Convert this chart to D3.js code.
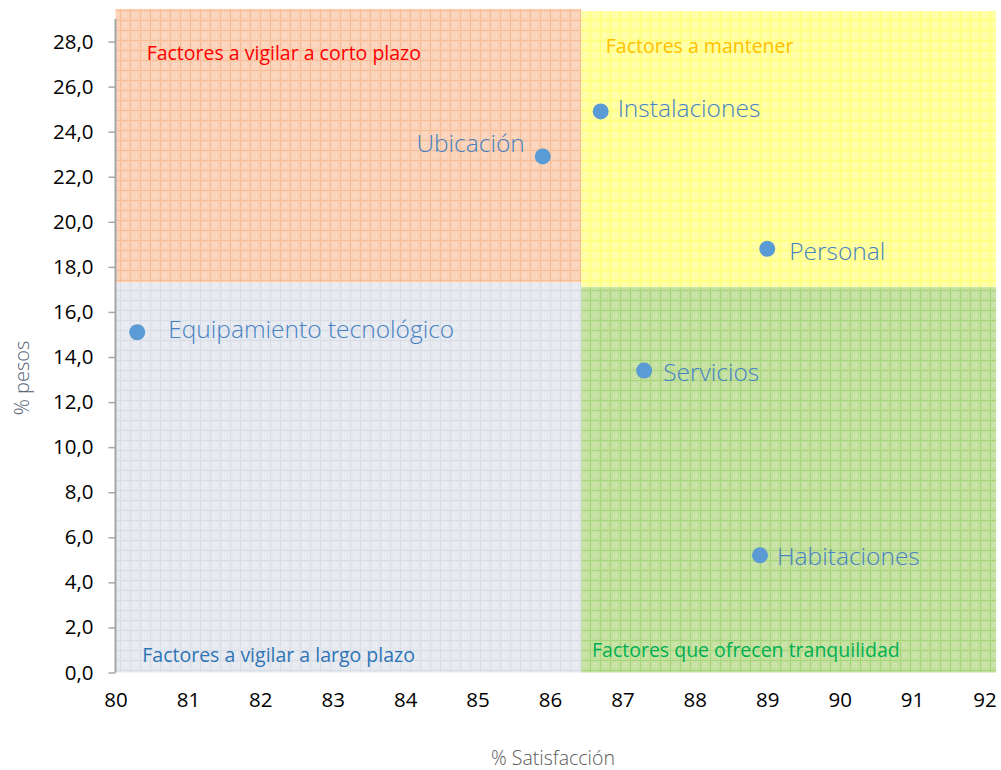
<!DOCTYPE html>
<html lang="es">
<head>
<meta charset="UTF-8">
<title>Matriz satisfacción / pesos</title>
<script src="https://cdn.jsdelivr.net/npm/d3@7"></script>
<style>
  body { margin: 0; background: #fff; }
  svg { display: block; font-family: "Open Sans", "Liberation Sans", sans-serif; }
</style>
</head>
<body>
<div id="chart"></div>
<script>
// factors: % satisfaction (x) and % weight (y)
var factors = ['Ubicación', 'Instalaciones', 'Personal', 'Equipamiento tecnológico', 'Servicios', 'Habitaciones'];
var satisfaccion = [85.9, 86.7, 89.0, 80.3, 87.3, 88.9];
var pesos = [22.9, 24.9, 18.8, 15.1, 13.4, 5.2];

var yTicks = [0, 2, 4, 6, 8, 10, 12, 14, 16, 18, 20, 22, 24, 26, 28];
var xTicks = [80, 81, 82, 83, 84, 85, 86, 87, 88, 89, 90, 91, 92];

// quadrant backgrounds (data units)
var quadNames = ['Factores a vigilar a corto plazo', 'Factores a mantener', 'Factores que ofrecen tranquilidad', 'Factores a vigilar a largo plazo'];
var quadX0 = [80, 86.43, 86.43, 80];
var quadX1 = [86.43, 92.16, 92.16, 86.43];
var quadY0 = [17.3, 17.1, 0, 0];
var quadY1 = [29.45, 29.35, 17.1, 17.3];

var width = 1001, height = 770;
var margin = {top: 19, right: 16.5, bottom: 97.5, left: 115.5};

var svg = d3.select('#chart').append('svg')
    .attr('width', width)
    .attr('height', height);

var x = d3.scaleLinear().domain([80, 92]).range([margin.left, width - margin.right]);
var y = d3.scaleLinear().domain([0, 29]).range([height - margin.bottom, margin.top]);

// textured fills, Excel style small grid
var tex = [
    {id: 'p-orange', base: '#fad2b8', line: '#f6bd98', dot: '#fcdcc8'},
    {id: 'p-yellow', base: '#ffff9e', line: '#ffff78', dot: '#ffffbc'},
    {id: 'p-green', base: '#c3e09f', line: '#a6d57c', dot: '#d0e7b5'},
    {id: 'p-gray', base: '#e6e9ef', line: '#d8dde6', dot: '#edeff3'}
];
var defs = svg.append('defs');
tex.forEach(function (t) {
    var p = defs.append('pattern')
        .attr('id', t.id)
        .attr('patternUnits', 'userSpaceOnUse')
        .attr('width', 10).attr('height', 10);
    p.append('rect').attr('width', 10).attr('height', 10).attr('fill', t.base);
    p.append('rect').attr('x', 3).attr('y', 3).attr('width', 4).attr('height', 4).attr('fill', t.dot);
    p.append('rect').attr('x', 4).attr('y', 4).attr('width', 2).attr('height', 2).attr('fill', t.base);
    p.append('rect').attr('width', 10).attr('height', 1).attr('fill', t.line);
    p.append('rect').attr('width', 1).attr('height', 10).attr('fill', t.line);
});

svg.append('g').selectAll('rect')
    .data(quadNames)
    .join('rect')
    .attr('x', (d, i) => x(quadX0[i]))
    .attr('y', (d, i) => y(quadY1[i]))
    .attr('width', (d, i) => x(quadX1[i]) - x(quadX0[i]))
    .attr('height', (d, i) => y(quadY0[i]) - y(quadY1[i]))
    .attr('fill', (d, i) => 'url(#' + tex[i].id + ')');

// quadrant captions
var quadColors = ['#ff0000', '#ffc000', '#00b050', '#2e75b6'];
var quadLabelX = [80.43, 86.77, 86.58, 80.37];
var quadLabelY = [27.2, 27.5, 0.69, 0.47];
svg.append('g').selectAll('text')
    .data(quadNames)
    .join('text')
    .attr('x', (d, i) => x(quadLabelX[i]))
    .attr('y', (d, i) => y(quadLabelY[i]))
    .attr('fill', (d, i) => quadColors[i])
    .attr('font-size', 19.5)
    .text(d => d);

// y axis
var yAxis = svg.append('g')
    .attr('transform', 'translate(' + margin.left + ',0)')
    .call(d3.axisLeft(y).tickValues(yTicks).tickSize(7).tickPadding(15)
        .tickFormat(d => d3.format('.1f')(d).replace('.', ',')));
yAxis.select('.domain').attr('stroke', '#a6a6a6').attr('stroke-width', 2)
    .attr('d', 'M0,' + y(0) + 'V' + y(29));
yAxis.selectAll('.tick line').attr('stroke', '#a6a6a6').attr('stroke-width', 1.5);
yAxis.selectAll('.tick text').attr('font-size', 20.5).attr('fill', '#000')
    .attr('font-family', '"Open Sans", sans-serif');

// x axis, labels only
var xAxis = svg.append('g')
    .attr('transform', 'translate(0,' + y(0) + ')')
    .call(d3.axisBottom(x).tickValues(xTicks).tickSize(0).tickPadding(20));
xAxis.select('.domain').remove();
xAxis.selectAll('.tick text').attr('font-size', 20.5).attr('fill', '#000')
    .attr('font-family', '"Open Sans", sans-serif');

// axis titles
svg.append('text')
    .attr('x', 553).attr('y', 765)
    .attr('text-anchor', 'middle')
    .attr('fill', '#595959')
    .attr('font-size', 19.5)
    .attr('font-weight', 300)
    .text('% Satisfacción');

svg.append('text')
    .attr('transform', 'translate(29,378) rotate(-90)')
    .attr('text-anchor', 'middle')
    .attr('fill', '#536175')
    .attr('font-size', 20)
    .attr('font-weight', 300)
    .text('% pesos');

// points
svg.append('g').selectAll('circle')
    .data(factors)
    .join('circle')
    .attr('cx', (d, i) => x(satisfaccion[i]))
    .attr('cy', (d, i) => y(pesos[i]))
    .attr('r', 8)
    .attr('fill', '#5b9bd5');

// label placement relative to each point
var labelDx = [-18, 17, 22, 31, 19, 17];
var labelDy = [-4, 6, 11, 6, 10, 10];
svg.append('g').selectAll('text')
    .data(factors)
    .join('text')
    .attr('x', (d, i) => x(satisfaccion[i]) + labelDx[i])
    .attr('y', (d, i) => y(pesos[i]) + labelDy[i])
    .attr('text-anchor', (d, i) => labelDx[i] < 0 ? 'end' : 'start')
    .attr('fill', '#4682c3')
    .attr('font-size', 24.5)
    .attr('font-weight', 300)
    .text(d => d);
</script>
</body>
</html>
